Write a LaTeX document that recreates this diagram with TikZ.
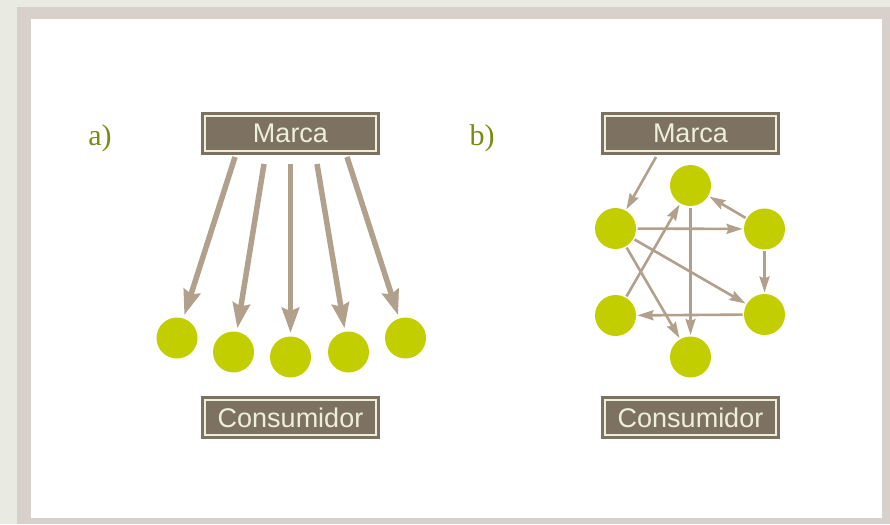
\documentclass[tikz,border=0pt]{standalone}
\usepackage{fontspec}
\setsansfont{Liberation Sans}
\newfontfamily\labelserif{Liberation Serif}
\usetikzlibrary{arrows.meta}
\definecolor{pagebg}{HTML}{E9EAE1}
\definecolor{framec}{HTML}{D8D0CA}
\definecolor{boxfill}{HTML}{7D7262}
\definecolor{cream}{HTML}{EEEEDD}
\definecolor{arrowc}{HTML}{B1A08C}
\definecolor{dotc}{HTML}{C2CE00}
\definecolor{olive}{HTML}{7A8A12}
\tikzset{
  % dark box with a thin cream rule set just inside its edge
  labelbox/.style={fill=boxfill, draw=boxfill, line width=3pt,
    double=cream, double distance=2pt,
    minimum width=171pt, minimum height=35pt,
    inner sep=0pt, font=\sffamily\fontsize{27}{27}\selectfont, text=cream},
  dot/.style={circle, fill=dotc, draw=none, minimum size=41pt, inner sep=0pt, outer sep=1.5pt},
  partlabel/.style={text=olive, font=\labelserif\fontsize{30}{30}\selectfont},
  fatarrow/.style={draw=arrowc, line width=5.5pt, shorten >=2pt,
    -{Stealth[length=25pt, width=17pt, inset=3pt]}},
  thinarrow/.style={draw=arrowc, line width=2.6pt,
    -{Stealth[length=16pt, width=10pt, inset=2pt]}},
}
\begin{document}
\begin{tikzpicture}[x=1pt, y=-1pt]
  % page background and frame
  \fill[pagebg] (0,0) rectangle (890,524);
  \useasboundingbox (0,0) rectangle (890,524);
  \fill[framec] (17,7) rectangle (890,524);
  \fill[white] (31,19) rectangle (882,518);

  % ---------- a) direct influence ----------
  \node[partlabel] (la) at (100,138) {a)};
  \node[labelbox] (ma) at (290.5,133) {Marca};
  \node[labelbox] (ca) at (290.5,417.5) {Consumidor};

  \node[dot] (a1) at (177,338) {};
  \node[dot] (a2) at (233.5,352) {};
  \node[dot] (a3) at (290.5,357) {};
  \node[dot] (a4) at (348.5,352) {};
  \node[dot] (a5) at (405.5,338) {};

  \coordinate (s1) at (235,157);
  \coordinate (s2) at (264,164);
  \coordinate (s3) at (290.5,164);
  \coordinate (s4) at (317,164);
  \coordinate (s5) at (347,157);
  \draw[fatarrow] (s1) -- (a1);
  \draw[fatarrow] (s2) -- (a2);
  \draw[fatarrow] (s3) -- (a3);
  \draw[fatarrow] (s4) -- (a4);
  \draw[fatarrow] (s5) -- (a5);

  % ---------- b) network of consumers ----------
  \node[partlabel] (lb) at (482,138) {b)};
  \node[labelbox] (mb) at (690.5,133) {Marca};
  \node[labelbox] (cb) at (690.5,417.5) {Consumidor};

  \node[dot] (t)  at (690.5,185.5) {};
  \node[dot] (lu) at (615.5,228.5) {};
  \node[dot] (ru) at (764.5,229) {};
  \node[dot] (ll) at (615.5,315.5) {};
  \node[dot] (rl) at (764.5,314.5) {};
  \node[dot] (b)  at (690.5,357) {};

  \coordinate (sb) at (656,157);
  \draw[thinarrow] (sb) -- (lu);
  \draw[thinarrow] (lu) -- (ru);
  \draw[thinarrow] (ru) -- (t);
  \draw[thinarrow] (ru) -- (rl);
  \draw[thinarrow] (rl) -- (ll);
  \draw[thinarrow] (ll) -- (t);
  \draw[thinarrow] (t) -- (b);
  \draw[thinarrow] (lu) -- (rl);
  \draw[thinarrow] (lu) -- (b);
\end{tikzpicture}
\end{document}
